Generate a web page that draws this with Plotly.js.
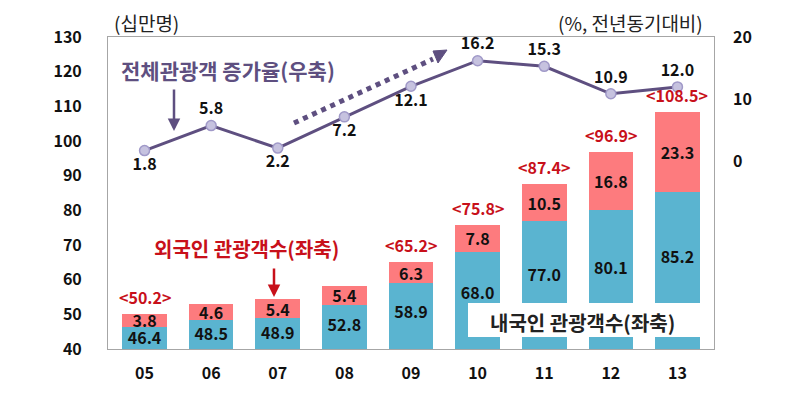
<!DOCTYPE html>
<html>
<head>
<meta charset="utf-8">
<script src="https://cdn.plot.ly/plotly-3.0.1.min.js"></script>
<style>html,body{margin:0;padding:0;background:#fff;}#chart{width:796px;height:404px;}</style>
</head>
<body>
<div id="chart"></div>
<script>
const years = ['05','06','07','08','09','10','11','12','13'];
const domestic = [46.4, 48.5, 48.9, 52.8, 58.9, 68.0, 77.0, 80.1, 85.2];
const foreign = [3.8, 4.6, 5.4, 5.4, 6.3, 7.8, 10.5, 16.8, 23.3];
const totalLabels = ['<50.2>', '', '', '', '<65.2>', '<75.8>', '<87.4>', '<96.9>', '<108.5>'];
const growth = [1.8, 5.8, 2.2, 7.2, 12.1, 16.2, 15.3, 10.9, 12.0];
const growthLabelPos = ['bottom center','top center','bottom center','bottom center','bottom center','top center','top center','top center','top center'];

const F = 'Noto Sans CJK KR, Noto Sans, sans-serif';
const purple = '#5E4F80';
const red = '#C8101A';
const Y_MIN = 40, Y_MAX = 130;

const totals = domestic.map((d, i) => +(d + foreign[i]).toFixed(1));
// label position inside the visible part of each domestic bar (axis starts at 40)
const domesticLabelY = domestic.map(d => Y_MIN + 0.6 * (d - Y_MIN) - 1.3);

const traces = [
  {
    type: 'bar', x: years, y: domestic, name: '내국인',
    marker: {color: '#5AB4D0'},
    hoverinfo: 'skip'
  },
  {
    type: 'bar', x: years, y: foreign, name: '외국인',
    marker: {color: '#FD7B7E'},
    text: foreign.map(v => v.toFixed(1)), textposition: 'inside', insidetextanchor: 'middle',
    constraintext: 'none',
    textfont: {family: F, size: 16, color: '#111', weight: 700},
    hoverinfo: 'skip'
  },
  {
    type: 'scatter', mode: 'text', x: years, y: domesticLabelY,
    text: domestic.map(v => v.toFixed(1)), textposition: 'middle center',
    textfont: {family: F, size: 16, color: '#111', weight: 700},
    hoverinfo: 'skip', cliponaxis: false
  },
  {
    type: 'scatter', mode: 'lines+markers+text', x: years, y: growth, yaxis: 'y2',
    line: {color: purple, width: 3},
    marker: {size: 10, color: '#C6C2DF', line: {color: '#A099C8', width: 1.5}},
    text: growth.map(v => v.toFixed(1)), textposition: growthLabelPos,
    textfont: {family: F, size: 16, color: '#111', weight: 700},
    hoverinfo: 'skip', cliponaxis: false
  }
];

function px(x) { return (x - 108) / 606; }
function py(y) { return (349 - y) / 312; }

// x is the category index on the category axis
const totalAnnotations = years.map((yr, i) => ({
  xref: 'x', yref: 'y', x: i, y: totals[i], yanchor: 'bottom', yshift: 3,
  showarrow: false, text: totalLabels[i].replace(/</g, '&lt;').replace(/>/g, '&gt;'),
  font: {family: F, size: 16, color: red, weight: 700}
})).filter((a, i) => totalLabels[i] !== '');

const layout = {
  width: 796, height: 404,
  margin: {l: 108, r: 82, t: 37, b: 55},
  paper_bgcolor: '#fff', plot_bgcolor: '#fff',
  showlegend: false,
  barmode: 'stack', bargap: 0.33,
  font: {family: F},
  xaxis: {
    type: 'category', showgrid: false, zeroline: false,
    showline: true, linecolor: '#A6A6A6', linewidth: 1, mirror: true,
    ticks: '', ticklabelstandoff: 10,
    tickfont: {family: F, size: 16, color: '#111', weight: 700}
  },
  yaxis: {
    range: [Y_MIN, Y_MAX], tickvals: [40,50,60,70,80,90,100,110,120,130],
    showgrid: false, zeroline: false,
    showline: true, linecolor: '#A6A6A6', linewidth: 1, mirror: true,
    ticks: '', ticklabelstandoff: 22,
    tickfont: {family: F, size: 16, color: '#111', weight: 700}
  },
  yaxis2: {
    overlaying: 'y', side: 'right', range: [-30, 20], tickvals: [0, 10, 20],
    showgrid: false, zeroline: false, showline: false,
    ticks: '', ticklabelstandoff: 18,
    tickfont: {family: F, size: 16, color: '#111', weight: 700}
  },
  shapes: [
    {type: 'line', xref: 'paper', yref: 'paper', x0: px(294), y0: py(123), x1: px(433), y1: py(59),
     line: {color: purple, width: 5, dash: 'dot'}},
    {type: 'path', xref: 'paper', yref: 'paper',
     path: `M ${px(433)} ${py(51)} L ${px(447)} ${py(50)} L ${px(438)} ${py(63)} Z`,
     fillcolor: purple, line: {color: purple, width: 1}},
    {type: 'rect', xref: 'paper', yref: 'paper', x0: px(468), x1: px(707), y0: py(337), y1: py(303),
     fillcolor: '#fff', line: {width: 0}, layer: 'above'}
  ],
  annotations: totalAnnotations.concat([
    {xref: 'paper', yref: 'paper', x: px(112), y: py(23), xanchor: 'left', yanchor: 'middle', showarrow: false,
     text: '(십만명)', font: {family: F, size: 19, color: '#222'}},
    {xref: 'paper', yref: 'paper', x: px(705), y: py(23), xanchor: 'right', yanchor: 'middle', showarrow: false,
     text: '(%, 전년동기대비)', font: {family: F, size: 19, color: '#222'}},
    {xref: 'paper', yref: 'paper', x: px(119), y: py(70), xanchor: 'left', yanchor: 'middle', showarrow: false,
     text: '전체관광객 증가율(우축)', font: {family: F, size: 21, color: purple, weight: 700}},
    {xref: 'paper', yref: 'paper', x: px(174), y: py(131), ax: 0, ay: -43, showarrow: true,
     arrowhead: 2, arrowsize: 1, arrowwidth: 2.5, arrowcolor: purple, text: ''},
    {xref: 'paper', yref: 'paper', x: px(152), y: py(248), xanchor: 'left', yanchor: 'middle', showarrow: false,
     text: '외국인 관광객수(좌축)', font: {family: F, size: 20, color: red, weight: 700}},
    {xref: 'paper', yref: 'paper', x: px(274), y: py(297), ax: 0, ay: -30, showarrow: true,
     arrowhead: 2, arrowsize: 1, arrowwidth: 2.5, arrowcolor: red, text: ''},
    {xref: 'paper', yref: 'paper', x: px(582), y: py(322), xanchor: 'center', yanchor: 'middle', showarrow: false,
     text: '내국인 관광객수(좌축)', font: {family: F, size: 20, color: '#222', weight: 700}}
  ])
};

Plotly.newPlot('chart', traces, layout, {staticPlot: true, displayModeBar: false});
</script>
</body>
</html>
